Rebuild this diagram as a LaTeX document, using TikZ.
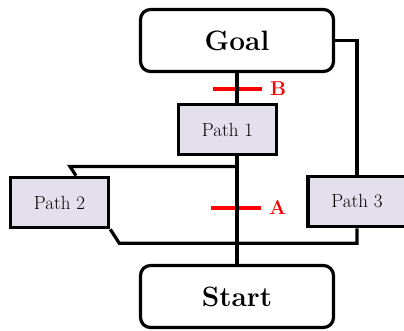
\documentclass[tikz,border=0pt]{standalone}
\usepackage{fontspec}
\usepackage{tikz}
\usetikzlibrary{positioning, backgrounds, calc}
\definecolor{pathlavender}{HTML}{E4DFEC}
\definecolor{markred}{HTML}{FF0000}
\newcommand{\terminalfont}{\fontsize{28pt}{32pt}\selectfont\bfseries}
\newcommand{\pathboxfont}{\fontsize{19pt}{22pt}\selectfont}
\newcommand{\marklabelfont}{\fontsize{20pt}{22pt}\selectfont\bfseries}

\begin{document}
\begin{tikzpicture}[x=1pt, y=-1pt,
                    line width=3.2pt,
                    terminalbox/.style={rectangle, draw, align=center, rounded corners=10pt, fill=white, minimum width=193pt, minimum height=62pt},
                    pathbox/.style={rectangle, draw, line width=3.6pt, align=center, fill=pathlavender, minimum width=98pt, minimum height=50pt},
                    cutmark/.style={draw=markred, line width=4pt},
                    marklabel/.style={text=markred, inner sep=0pt, xshift=6pt}]

    \useasboundingbox (0,0) rectangle (404,330);

    % Main Nodes
    \node[terminalbox] (goal) at (237,40.5) {\terminalfont Goal};
    \node[terminalbox] (start) at (237,296.5) {\terminalfont Start};
    \node[pathbox] (path1) at (227.5,129.5) {\pathboxfont Path 1};
    \node[pathbox] (path2) at (59.5,202.5) {\pathboxfont Path 2};
    \node[pathbox] (path3) at (357,201.5) {\pathboxfont Path 3};

    \coordinate (split2) at (237,166.5);
    \coordinate (markB) at (237,89);
    \coordinate (markA) at (236,207.5);

    % Connecting lines for path 1
    \draw (goal.south) -- (goal.south |- path1.north);
    \draw (start.north |- path1.south) -- (start.north);

    % Connecting lines for path 2
    \draw (split2) -- ++(-167,0) -- ([xshift=16.5pt]path2.north);
    \draw (path2.south east) -- ++(9,14) -| (path3.south);

    % Connecting lines for path 3
    \draw (path3.north) |- (goal.east);

    % cut marks
    \begin{scope}[on background layer]
        \draw[cutmark] ([xshift=-24pt]markB) -- ([xshift=25pt]markB) node[marklabel, right] (labelB) {\marklabelfont B};
        \draw[cutmark] ([xshift=-25pt]markA) -- ([xshift=25pt]markA) node[marklabel, right] (labelA) {\marklabelfont A};
    \end{scope}

\end{tikzpicture}
\end{document}
